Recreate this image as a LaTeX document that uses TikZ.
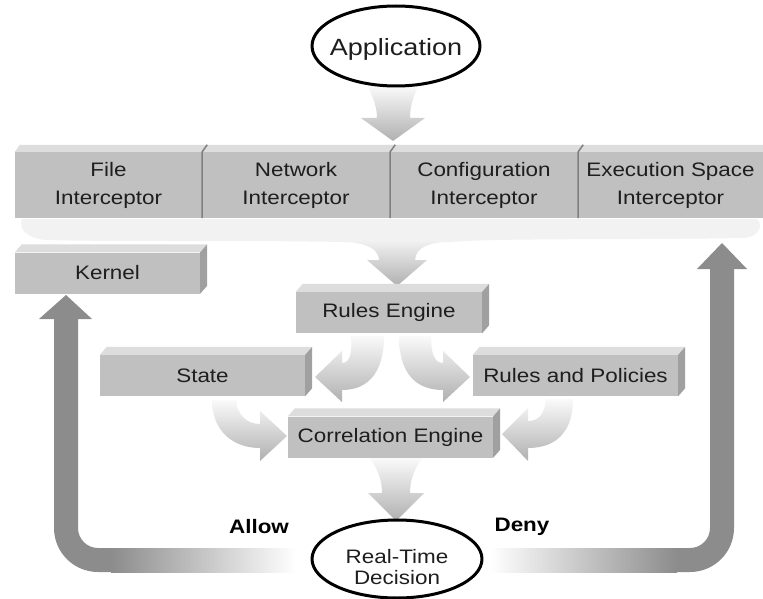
\documentclass[tikz,border=0pt]{standalone}
\usepackage{fontspec}
\setmainfont{Liberation Sans}[FakeStretch=1.15]
\definecolor{boxfront}{RGB}{192,192,192}
\definecolor{boxtop}{RGB}{221,221,221}
\definecolor{boxside}{RGB}{160,160,160}
\definecolor{edgegray}{RGB}{128,128,128}
\definecolor{backgray}{RGB}{140,140,140}
\definecolor{inkgray}{RGB}{30,30,30}
\begin{document}
\begin{tikzpicture}[x=1pt, y=-1pt, line join=round,
	font=\fontsize{19.5}{24}\selectfont,
	slab/.style={fill=boxfront, text=inkgray, inner sep=0pt, minimum height=41},
	part/.style={slab, minimum height=66, align=center, font=\fontsize{19.5}{28}\selectfont},
	ring/.style={draw=black, line width=3pt, fill=white},
	flow/.style={top color=gray!4, bottom color=gray!62},
	back/.style={fill=backgray}]
		\def\dx{7} \def\dy{-8}
		\useasboundingbox (0,0) rectangle (763,599);
		\fill[white] (0,0) rectangle (763,599);
		%	\draw[gray!30] (0,0) grid[step=50] (763,599);
		
		% interceptor bar
		\node[part, minimum width=187] (file) at (108.5,185) {File\\Interceptor};
		\node[part, minimum width=188] (network) at (296,185) {Network\\Interceptor};
		\node[part, minimum width=188] (config) at (484,185) {Configuration\\Interceptor};
		\node[part, minimum width=185] (exec) at (670.5,185) {Execution Space\\Interceptor};
		\fill[boxtop] (file.north west) -- ++(5,-7) -- (763,145) -- (exec.north east) -- cycle;
		\foreach \a in {file,network,config}
		\draw[edgegray, line width=1.5pt] (\a.south east) -- (\a.north east) -- ++(5,-7);
		
		% haze under the bar, narrowing into the arrow
		\fill[gray!10] (22,219) -- (757,219) .. controls (763,224) and (760,236) .. (745,238)
		.. controls (620,240) and (500,238) .. (450,242) -- (340,242)
		.. controls (240,240) and (120,242) .. (45,240) .. controls (28,238) and (18,230) .. (22,219) -- cycle;
		\shade[top color=gray!10, bottom color=gray!62] (325,240) .. controls (360,242) and (378,245) .. (379,260)
		-- (367,260) -- (397,286) -- (427,260) -- (415,260) .. controls (416,246) and (430,242) .. (462,240) -- cycle;
		
		% boxes
		\node[slab, minimum width=185] (kernel) at (107.5,273) {Kernel};
		\node[slab, minimum width=186] (rules) at (389,312.5) {Rules Engine};
		\node[slab, minimum width=205] (state) at (202.5,375.5) {State};
		\node[slab, minimum width=205] (policy) at (575.5,375.5) {Rules and Policies};
		\node[slab, minimum width=205] (correl) at (390.5,437) {Correlation Engine};
		\foreach \n in {kernel,rules,state,policy,correl}{
			\fill[boxtop] (\n.north west) -- ++(\dx,\dy) -- ([shift={(\dx,\dy)}]\n.north east) -- (\n.north east) -- cycle;
			\fill[boxside] (\n.north east) -- ++(\dx,\dy) -- ([shift={(\dx,\dy)}]\n.south east) -- (\n.south east) -- cycle;
		}
		
		% shaded arrows
		\shade[flow] (368,86) .. controls (374,100) and (377,108) .. (377,118) -- (361,118) -- (393,141)
		-- (425,118) -- (410,118) .. controls (410,108) and (412,100) .. (418,86) -- cycle;
		\shade[flow] (384,336) .. controls (384,370) and (370,390) .. (342,390) -- (342,402) -- (315,377)
		-- (342,351) -- (342,363) .. controls (351,363) and (352,350) .. (351,336) -- cycle;
		\shade[flow] (399,336) .. controls (399,370) and (413,390) .. (443,390) -- (443,402) -- (470,377)
		-- (443,351) -- (443,363) .. controls (433,363) and (431,350) .. (431,336) -- cycle;
		\shade[flow] (212,400) .. controls (212,430) and (232,448) .. (260,448) -- (260,461) -- (287,436)
		-- (260,411) -- (260,424) .. controls (246,424) and (237,414) .. (236,400) -- cycle;
		\shade[flow] (573,399) .. controls (573,432) and (556,448) .. (528,448) -- (528,461) -- (502,434)
		-- (528,408) -- (528,421) .. controls (540,421) and (545,412) .. (546,399) -- cycle;
		\shade[flow] (370,458) .. controls (378,470) and (382,480) .. (382,493) -- (368,493) -- (396,521)
		-- (424,493) -- (410,493) .. controls (410,480) and (414,470) .. (422,458) -- cycle;
		
		% allow / deny return arrows
		\fill[back] (39,319) -- (66,295) -- (92,319) -- (78,319) -- (78,528) arc[start angle=180, end angle=90, radius=20]
		-- (112,548) -- (112,572) -- (98,572) arc[start angle=90, end angle=180, radius=44] -- (54,319) -- cycle;
		\shade[left color=backgray, right color=white] (111,548) rectangle (296,572);
		\fill[back] (697,269) -- (722,243) -- (747,269) -- (734,269) -- (734,528) arc[start angle=0, end angle=90, radius=44]
		-- (676,572) -- (676,548) -- (690,548) arc[start angle=90, end angle=0, radius=20] -- (710,269) -- cycle;
		\shade[left color=white, right color=backgray] (490,548) rectangle (677,572);
		\node[font=\fontsize{19.5}{24}\selectfont\bfseries] (allow) at (259,527) {Allow};
		\node[font=\fontsize{19.5}{24}\selectfont\bfseries] (deny) at (522,527) {Deny};
		
		% ovals
		\draw[ring] (396,46) ellipse[x radius=84, y radius=40];
		\node[text=inkgray, font=\fontsize{23.5}{28}\selectfont] (app) at (396,49) {Application};
		\draw[ring] (397,559) ellipse[x radius=85, y radius=39];
		\node[text=inkgray, align=center, font=\fontsize{19.5}{21}\selectfont] (decide) at (397,567) {Real-Time\\Decision};
\end{tikzpicture}
\end{document}
